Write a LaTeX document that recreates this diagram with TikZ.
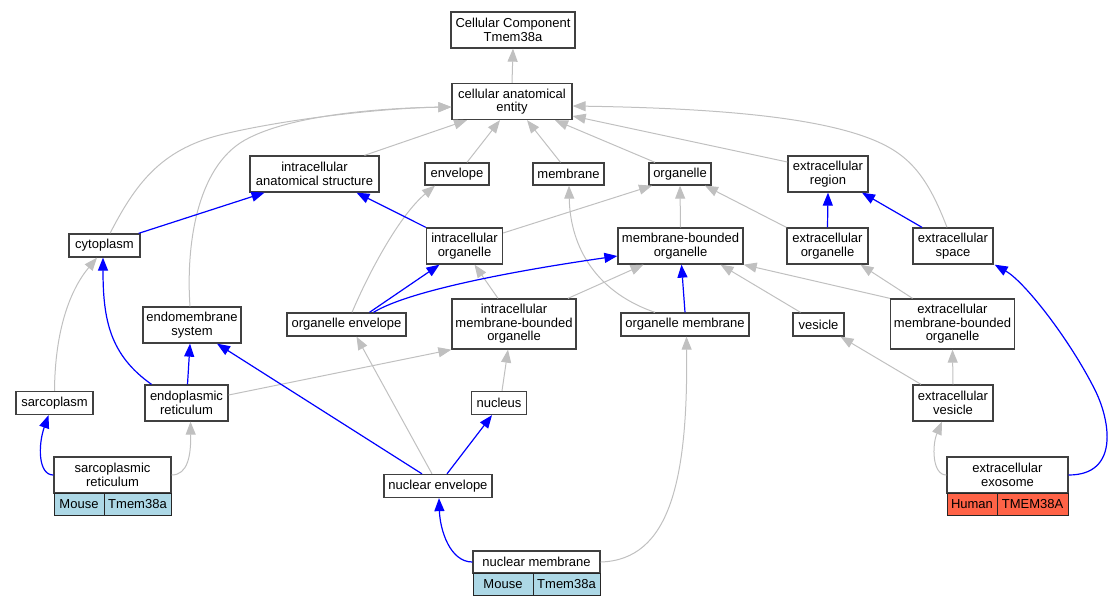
\documentclass[tikz,border=0pt]{standalone}
\usepackage{fontspec}
\setmainfont{Liberation Sans}
\usetikzlibrary{arrows.meta}
\definecolor{edgegray}{HTML}{C0C0C0}
\definecolor{cellblue}{HTML}{ADD8E6}
\definecolor{celltomato}{HTML}{FF6347}
\definecolor{border}{HTML}{404040}
\begin{document}
\begin{tikzpicture}[x=1pt,y=-1pt,
  box/.style={draw=border, line width=1.3pt, fill=white, rectangle, inner sep=0pt, align=center, font=\fontsize{13}{13.4}\selectfont},
  cell/.style={draw=black!85, line width=0.9pt, rectangle, inner sep=0pt, align=center, font=\fontsize{13}{13.4}\selectfont},
  gedge/.style={draw=edgegray, line width=1pt, -{Triangle[length=13pt,width=10pt]}},
  bedge/.style={draw=blue, line width=1.2pt, -{Triangle[length=13pt,width=10pt]}},
]
\useasboundingbox (0,0) rectangle (1114,605);

\node[box, minimum width=124, minimum height=36] (cc) at (513,30) {Cellular Component\\Tmem38a};
\node[box, minimum width=120, minimum height=36] (cae) at (512,101.5) {cellular anatomical\\entity};
\node[box, minimum width=129, minimum height=36] (ias) at (314.5,174) {intracellular\\anatomical structure};
\node[box, minimum width=64, minimum height=22] (env) at (457,174) {envelope};
\node[box, minimum width=71, minimum height=22] (mem) at (568.5,174) {membrane};
\node[box, minimum width=62, minimum height=22] (org) at (680,174) {organelle};
\node[box, minimum width=80, minimum height=36] (ecr) at (828,174) {extracellular\\region};
\node[box, minimum width=71, minimum height=23] (cyto) at (104.5,245.5) {cytoplasm};
\node[box, minimum width=76, minimum height=36] (io) at (464.5,246) {intracellular\\organelle};
\node[box, minimum width=125, minimum height=36] (mbo) at (680.5,246) {membrane-bounded\\organelle};
\node[box, minimum width=81, minimum height=36] (eco) at (827.5,246) {extracellular\\organelle};
\node[box, minimum width=80, minimum height=36] (ecs) at (953,246) {extracellular\\space};
\node[box, minimum width=98, minimum height=36] (ems) at (192,325) {endomembrane\\system};
\node[box, minimum width=119, minimum height=23] (oenv) at (346.5,324.5) {organelle envelope};
\node[box, minimum width=124, minimum height=50] (imbo) at (514,324) {intracellular\\membrane-bounded\\organelle};
\node[box, minimum width=128, minimum height=23] (omem) at (685,324.5) {organelle membrane};
\node[box, minimum width=51, minimum height=23] (ves) at (818.5,324.5) {vesicle};
\node[box, minimum width=124, minimum height=50] (embo) at (952.5,324) {extracellular\\membrane-bounded\\organelle};
\node[box, minimum width=77, minimum height=23] (sarco) at (54.5,403) {sarcoplasm};
\node[box, minimum width=83, minimum height=36] (er) at (186.5,403) {endoplasmic\\reticulum};
\node[box, minimum width=55, minimum height=23] (nuc) at (499,403) {nucleus};
\node[box, minimum width=80, minimum height=36] (ecv) at (953,403) {extracellular\\vesicle};
\node[box, minimum width=108, minimum height=23] (nenv) at (438,486) {nuclear envelope};

\node[box, minimum width=117, minimum height=36] (sr) at (112.5,475) {sarcoplasmic\\reticulum};
\node[cell, fill=cellblue, minimum width=50, minimum height=22] (srm) at (79,504) {Mouse};
\node[cell, fill=cellblue, minimum width=67, minimum height=22] (srg) at (137.5,504) {Tmem38a};

\node[box, minimum width=127, minimum height=22] (nm) at (536.5,562) {nuclear membrane};
\node[cell, fill=cellblue, minimum width=60, minimum height=22] (nmm) at (503,584) {Mouse};
\node[cell, fill=cellblue, minimum width=67, minimum height=22] (nmg) at (566.5,584) {Tmem38a};

\node[box, minimum width=121, minimum height=36] (exo) at (1007.5,475) {extracellular\\exosome};
\node[cell, fill=celltomato, minimum width=50, minimum height=22] (exoh) at (972,504) {Human};
\node[cell, fill=celltomato, minimum width=71, minimum height=22] (exog) at (1032.5,504) {TMEM38A};

% gray edges
\draw[gedge] (cae.north) -- (cc.south);
\draw[gedge] ([xshift=50]ias.north) -- ([xshift=-45]cae.south);
\draw[gedge] ([xshift=10]env.north) -- ([xshift=-12]cae.south);
\draw[gedge] ([xshift=-8]mem.north) -- ([xshift=15]cae.south);
\draw[gedge] ([xshift=-25]org.north) -- ([xshift=43]cae.south);
\draw[gedge] ([yshift=12]ecr.west) -- ([yshift=-14.5]cae.east);
\draw[gedge] ([xshift=-6]ecs.north) .. controls (925,170) and (905,150) .. (860,135) .. controls (800,115) and (700,108) .. ([yshift=-4.5]cae.east);
\draw[gedge] ([xshift=5.5]cyto.north) .. controls (135,185) and (160,150) .. (220,135) .. controls (280,120) and (380,108) .. ([yshift=-5.5]cae.west);
\draw[gedge] ([xshift=-2]ems.north) .. controls (186,250) and (195,168) .. (245,140) .. controls (290,115) and (380,108) .. ([yshift=-5.5]cae.west);
\draw[gedge] ([yshift=13]io.east) -- ([xshift=-28]org.south);
\draw[gedge] (mbo.north) -- (org.south);
\draw[gedge] (eco.north west) -- ([xshift=25]org.south);
\draw[gedge] ([xshift=5.5]oenv.north) .. controls (370,270) and (400,215) .. ([xshift=-22]env.south);
\draw[gedge] ([xshift=-30]omem.north) .. controls (590,290) and (570,240) .. ([xshift=0.5]mem.south);
\draw[gedge] ([xshift=-16]imbo.north) -- ([xshift=10]io.south);
\draw[gedge] ([xshift=54]imbo.north) -- ([xshift=-37]mbo.south);
\draw[gedge] ([xshift=-18]ves.north) -- ([xshift=40]mbo.south);
\draw[gedge] (embo.north west) -- (mbo.south east);
\draw[gedge] ([xshift=-40]embo.north) -- ([xshift=33]eco.south);
\draw[gedge] ([yshift=8]er.east) -- (imbo.south west);
\draw[gedge] ([xshift=3]nuc.north) -- ([xshift=-6]imbo.south);
\draw[gedge] ([xshift=-6]nenv.north) -- ([xshift=10]oenv.south);
\draw[gedge] (sarco.north) .. controls (55,330) and (70,290) .. ([xshift=-7.5]cyto.south);
\draw[gedge] (sr.east) .. controls (188,475) and (191,455) .. ([xshift=4]er.south);
\draw[gedge] (nm.east) .. controls (670,560) and (688,480) .. ([xshift=1.5]omem.south);
\draw[gedge] ([xshift=-32]ecv.north) -- ([xshift=22]ves.south);
\draw[gedge] (ecv.north) -- (embo.south);
\draw[gedge] (exo.west) .. controls (932,475) and (932,445) .. ([xshift=-11]ecv.south);

% blue edges
\draw[bedge] ([xshift=-2]cyto.north east) -- ([xshift=-50]ias.south);
\draw[bedge] (io.north west) -- ([xshift=42]ias.south);
\draw[bedge] (eco.north) -- (ecr.south);
\draw[bedge] ([xshift=-31]ecs.north) -- ([xshift=34]ecr.south);
\draw[bedge] ([xshift=1]er.north) -- ([xshift=-2]ems.south);
\draw[bedge] ([xshift=-35]er.north) .. controls (110,355) and (103,320) .. ([xshift=-1.5]cyto.south);
\draw[bedge] ([xshift=23]oenv.north) -- ([xshift=-25]io.south);
\draw[bedge] ([xshift=27]oenv.north) .. controls (410,290) and (520,270) .. ([yshift=-10]mbo.west);
\draw[bedge] (omem.north) -- ([xshift=1]mbo.south);
\draw[bedge] ([xshift=-16]nenv.north) -- ([xshift=25]ems.south);
\draw[bedge] ([xshift=9]nenv.north) -- ([xshift=-7]nuc.south);
\draw[bedge] (nm.west) .. controls (450,562) and (440,530) .. ([xshift=1]nenv.south);
\draw[bedge] (sr.west) .. controls (38,475) and (38,445) .. ([xshift=-6]sarco.south);
\draw[bedge] (exo.east) .. controls (1120,475) and (1110,420) .. (1095,390) .. controls (1070,340) and (1025,282) .. ([xshift=1]ecs.south east);
\end{tikzpicture}
\end{document}
